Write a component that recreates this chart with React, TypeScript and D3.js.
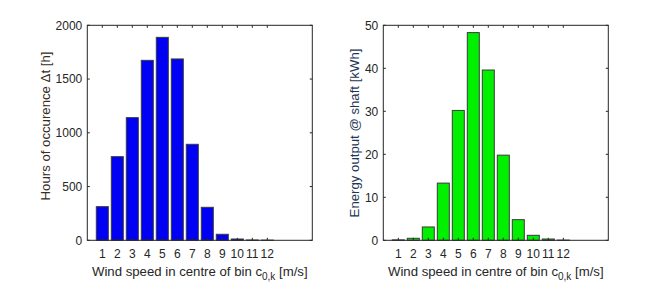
import { useEffect, useRef } from 'react';
import * as d3 from 'd3';

const bins = [1, 2, 3, 4, 5, 6, 7, 8, 9, 10, 11, 12];
const hours = [313, 778, 1141, 1674, 1888, 1687, 893, 307, 56, 12, 3, 2];
const energy = [0.1, 0.47, 3.1, 13.3, 30.2, 48.3, 39.6, 19.8, 4.8, 1.16, 0.3, 0.05];
const hoursTicks = [0, 500, 1000, 1500, 2000];
const energyTicks = [0, 10, 20, 30, 40, 50];

const W = 651;
const H = 299;

interface PanelSpec {
  left: number;
  values: number[];
  ticks: number[];
  yMax: number;
  fill: string;
  yLabel: string;
  yLabelColor: string;
  yLabelX: number;
  yLabelY: number;
}

const panels: PanelSpec[] = [
  {
    left: 87.3,
    values: hours,
    ticks: hoursTicks,
    yMax: 2000,
    fill: '#0000f5',
    yLabel: 'Hours of occurence  \u0394t [h]',
    yLabelColor: '#3a2c22',
    yLabelX: 45,
    yLabelY: 126,
  },
  {
    left: 383.3,
    values: energy,
    ticks: energyTicks,
    yMax: 50,
    fill: '#00f000',
    yLabel: 'Energy output @ shaft [kWh]',
    yLabelColor: '#1e3656',
    yLabelX: 354,
    yLabelY: 133,
  },
];

export default function App() {
  const svgRef = useRef<SVGSVGElement>(null);

  useEffect(() => {
    if (!svgRef.current) return;
    const svg = d3.select(svgRef.current);
    svg.selectAll('*').remove();

    const top = 25.3;
    const bottom = 240.3;
    const plotW = 225;
    const ink = '#262626';
    const font = 'Liberation Sans, Arial, sans-serif';

    panels.forEach((p) => {
      const x = d3.scaleLinear().domain([0, 15]).range([p.left, p.left + plotW]);
      const y = d3.scaleLinear().domain([0, p.yMax]).range([bottom, top]);
      const g = svg.append('g');

      // bars
      g.selectAll('rect.bar')
        .data(p.values)
        .join('rect')
        .attr('class', 'bar')
        .attr('x', (_, i) => x(bins[i] - 0.4))
        .attr('width', x(0.8) - x(0))
        .attr('y', (d) => y(d))
        .attr('height', (d) => y(0) - y(d))
        .attr('fill', p.fill)
        .attr('stroke', '#3a3a3a')
        .attr('stroke-width', 1);

      // ticks inward on all four sides
      const tl = 2.5;
      bins.forEach((b) => {
        g.append('line')
          .attr('x1', x(b)).attr('x2', x(b))
          .attr('y1', top).attr('y2', top + tl)
          .attr('stroke', ink);
        g.append('line')
          .attr('x1', x(b)).attr('x2', x(b))
          .attr('y1', bottom).attr('y2', bottom - tl)
          .attr('stroke', ink);
      });
      p.ticks.forEach((t) => {
        g.append('line')
          .attr('x1', x(0)).attr('x2', x(0) + tl)
          .attr('y1', y(t)).attr('y2', y(t))
          .attr('stroke', ink);
        g.append('line')
          .attr('x1', x(15)).attr('x2', x(15) - tl)
          .attr('y1', y(t)).attr('y2', y(t))
          .attr('stroke', ink);
      });

      // box
      g.append('rect')
        .attr('x', x(0))
        .attr('y', top)
        .attr('width', plotW)
        .attr('height', bottom - top)
        .attr('fill', 'none')
        .attr('stroke', ink)
        .attr('stroke-width', 1);

      // tick labels
      g.selectAll('text.xt')
        .data(bins)
        .join('text')
        .attr('class', 'xt')
        .attr('x', (d) => x(d))
        .attr('y', 257.5)
        .attr('text-anchor', 'middle')
        .attr('font-family', font)
        .attr('font-size', '12px')
        .attr('fill', ink)
        .text((d) => d);

      g.selectAll('text.yt')
        .data(p.ticks)
        .join('text')
        .attr('class', 'yt')
        .attr('x', x(0) - 5)
        .attr('y', (d) => y(d))
        .attr('dy', '0.35em')
        .attr('text-anchor', 'end')
        .attr('font-family', font)
        .attr('font-size', '12px')
        .attr('fill', ink)
        .text((d) => d);

      // x label with subscript
      const xl = g.append('text')
        .attr('x', x(7.5))
        .attr('y', 275.5)
        .attr('text-anchor', 'middle')
        .attr('font-family', font)
        .attr('font-size', '13.2px')
        .attr('fill', ink);
      xl.append('tspan').text('Wind speed in centre of bin c');
      xl.append('tspan').attr('dy', 4.5).attr('font-size', '10px').text('0,k');
      xl.append('tspan').attr('dy', -4.5).text(' [m/s]');

      // y label
      g.append('text')
        .attr('transform', `translate(${p.yLabelX},${p.yLabelY}) rotate(-90)`)
        .attr('dy', '0.35em')
        .attr('text-anchor', 'middle')
        .attr('font-family', font)
        .attr('font-size', '13.2px')
        .attr('fill', p.yLabelColor)
        .text(p.yLabel);
    });
  }, []);

  return (
    <svg
      ref={svgRef}
      width={W}
      height={H}
      style={{ position: 'absolute', left: 0, top: 0, background: 'white' }}
    />
  );
}
